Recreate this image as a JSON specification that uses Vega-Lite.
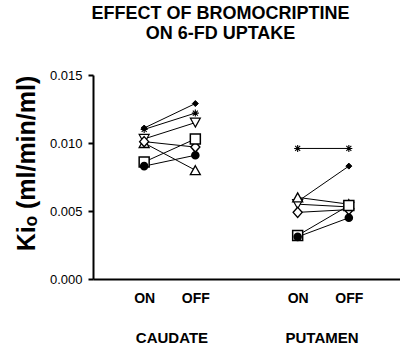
{
  "$schema": "https://vega.github.io/schema/vega-lite/v6.json",
  "width": 307,
  "height": 204,
  "autosize": {"type": "none"},
  "padding": {"left": 93, "top": 75, "right": 0, "bottom": 74},
  "background": "white",
  "config": {"view": {"stroke": null}, "font": "Liberation Sans"},
  "title": {
    "text": ["EFFECT OF BROMOCRIPTINE", "ON 6-FD UPTAKE"],
    "font": "Liberation Sans",
    "fontSize": 18,
    "fontWeight": "bold",
    "color": "black",
    "anchor": "middle",
    "frame": "group",
    "dx": -26,
    "offset": 26,
    "lineHeight": 20
  },
  "data": {
    "values": [
      {"subject": "A", "region": "CAUDATE", "cond": "CAUDATE ON", "value": 0.0111},
      {"subject": "A", "region": "CAUDATE", "cond": "CAUDATE OFF", "value": 0.0129},
      {"subject": "B", "region": "CAUDATE", "cond": "CAUDATE ON", "value": 0.0110},
      {"subject": "B", "region": "CAUDATE", "cond": "CAUDATE OFF", "value": 0.0122},
      {"subject": "C", "region": "CAUDATE", "cond": "CAUDATE ON", "value": 0.0103},
      {"subject": "C", "region": "CAUDATE", "cond": "CAUDATE OFF", "value": 0.0115},
      {"subject": "D", "region": "CAUDATE", "cond": "CAUDATE ON", "value": 0.0100},
      {"subject": "D", "region": "CAUDATE", "cond": "CAUDATE OFF", "value": 0.0080},
      {"subject": "E", "region": "CAUDATE", "cond": "CAUDATE ON", "value": 0.0101},
      {"subject": "E", "region": "CAUDATE", "cond": "CAUDATE OFF", "value": 0.0097},
      {"subject": "F", "region": "CAUDATE", "cond": "CAUDATE ON", "value": 0.0086},
      {"subject": "F", "region": "CAUDATE", "cond": "CAUDATE OFF", "value": 0.0103},
      {"subject": "G", "region": "CAUDATE", "cond": "CAUDATE ON", "value": 0.0083},
      {"subject": "G", "region": "CAUDATE", "cond": "CAUDATE OFF", "value": 0.0091},
      {"subject": "A", "region": "PUTAMEN", "cond": "PUTAMEN ON", "value": 0.0057},
      {"subject": "A", "region": "PUTAMEN", "cond": "PUTAMEN OFF", "value": 0.0083},
      {"subject": "B", "region": "PUTAMEN", "cond": "PUTAMEN ON", "value": 0.0096},
      {"subject": "B", "region": "PUTAMEN", "cond": "PUTAMEN OFF", "value": 0.0096},
      {"subject": "C", "region": "PUTAMEN", "cond": "PUTAMEN ON", "value": 0.0055},
      {"subject": "C", "region": "PUTAMEN", "cond": "PUTAMEN OFF", "value": 0.0053},
      {"subject": "D", "region": "PUTAMEN", "cond": "PUTAMEN ON", "value": 0.0060},
      {"subject": "D", "region": "PUTAMEN", "cond": "PUTAMEN OFF", "value": 0.0055},
      {"subject": "E", "region": "PUTAMEN", "cond": "PUTAMEN ON", "value": 0.0049},
      {"subject": "E", "region": "PUTAMEN", "cond": "PUTAMEN OFF", "value": 0.0051},
      {"subject": "F", "region": "PUTAMEN", "cond": "PUTAMEN ON", "value": 0.0032},
      {"subject": "F", "region": "PUTAMEN", "cond": "PUTAMEN OFF", "value": 0.0054},
      {"subject": "G", "region": "PUTAMEN", "cond": "PUTAMEN ON", "value": 0.0031},
      {"subject": "G", "region": "PUTAMEN", "cond": "PUTAMEN OFF", "value": 0.0045}
    ]
  },
  "layer": [
    {
      "encoding": {
        "x": {
          "field": "cond",
          "type": "nominal",
          "scale": {
            "type": "point",
            "domain": ["CAUDATE ON", "CAUDATE OFF", "gap", "PUTAMEN ON", "PUTAMEN OFF"],
            "padding": 1.07
          },
          "axis": {
            "title": null,
            "orient": "bottom",
            "ticks": false,
            "tickSize": 0,
            "domainColor": "black",
            "domainWidth": 2,
            "labelAngle": 0,
            "labelPadding": 12,
            "labelFont": "Liberation Sans",
            "labelFontSize": 14,
            "labelFontWeight": "bold",
            "labelColor": "black",
            "labelExpr": "indexof(datum.value, 'OFF') >= 0 ? 'OFF' : (indexof(datum.value, 'ON') >= 0 ? 'ON' : '')"
          }
        },
        "y": {
          "field": "value",
          "type": "quantitative",
          "scale": {"domain": [0, 0.015], "nice": false, "zero": true},
          "axis": {
            "values": [0, 0.005, 0.01, 0.015],
            "format": ".3f",
            "grid": false,
            "domainColor": "black",
            "domainWidth": 2,
            "tickColor": "black",
            "tickWidth": 2,
            "tickSize": 5,
            "labelPadding": 6,
            "labelFont": "Liberation Sans",
            "labelFontSize": 13,
            "labelColor": "black",
            "title": "Kiₒ (ml/min/ml)",
            "titleFont": "Liberation Sans",
            "titleFontSize": 25,
            "titleFontWeight": "bold",
            "titleColor": "black",
            "titleX": -54,
            "titleY": 88,
            "titleAngle": -90,
            "titleBaseline": "bottom",
            "titleAlign": "center"
          }
        }
      },
      "layer": [
        {
          "mark": {"type": "line", "color": "black", "strokeWidth": 1},
          "encoding": {
            "detail": [{"field": "subject"}, {"field": "region"}]
          }
        },
        {
          "mark": {"type": "point", "filled": true, "size": 100, "stroke": "black", "strokeWidth": 1, "opacity": 1},
          "encoding": {
            "shape": {
              "field": "subject",
              "type": "nominal",
              "scale": {
                "domain": ["A", "B", "C", "D", "E", "F", "G"],
                "range": [
                  "M0,-0.6L0.6,0L0,0.6L-0.6,0Z",
                  "M-0.7,0H0.7M0,-0.7V0.7M-0.5,-0.5L0.5,0.5M-0.5,0.5L0.5,-0.5",
                  "M0,0.9L1,-0.9H-1Z",
                  "M0,-0.9L1,0.9H-1Z",
                  "M0,-1L0.9,0L0,1L-0.9,0Z",
                  "M-1,-1H1V1H-1Z",
                  "M0.7,0A0.7,0.7,0,1,1,-0.7,0A0.7,0.7,0,1,1,0.7,0Z"
                ]
              },
              "legend": null
            },
            "fill": {
              "field": "subject",
              "type": "nominal",
              "scale": {
                "domain": ["A", "B", "C", "D", "E", "F", "G"],
                "range": ["black", "black", "white", "white", "white", "white", "black"]
              },
              "legend": null
            },
            "strokeWidth": {
              "field": "subject",
              "type": "nominal",
              "scale": {
                "domain": ["A", "B", "C", "D", "E", "F", "G"],
                "range": [1, 1.6, 1, 1, 1, 1, 1]
              },
              "legend": null
            }
          }
        }
      ]
    },
    {
      "mark": {"type": "point", "opacity": 0},
      "encoding": {
        "x": {
          "field": "region",
          "type": "nominal",
          "scale": {"type": "point", "domain": ["CAUDATE", "PUTAMEN"], "padding": 0.523},
          "axis": {
            "title": null,
            "orient": "bottom",
            "domain": false,
            "ticks": false,
            "tickSize": 0,
            "labelAngle": 0,
            "labelPadding": 51,
            "labelFont": "Liberation Sans",
            "labelFontSize": 15,
            "labelFontWeight": "bold",
            "labelColor": "black"
          }
        },
        "y": {"field": "value", "type": "quantitative"}
      }
    }
  ],
  "resolve": {"scale": {"x": "independent"}}
}
